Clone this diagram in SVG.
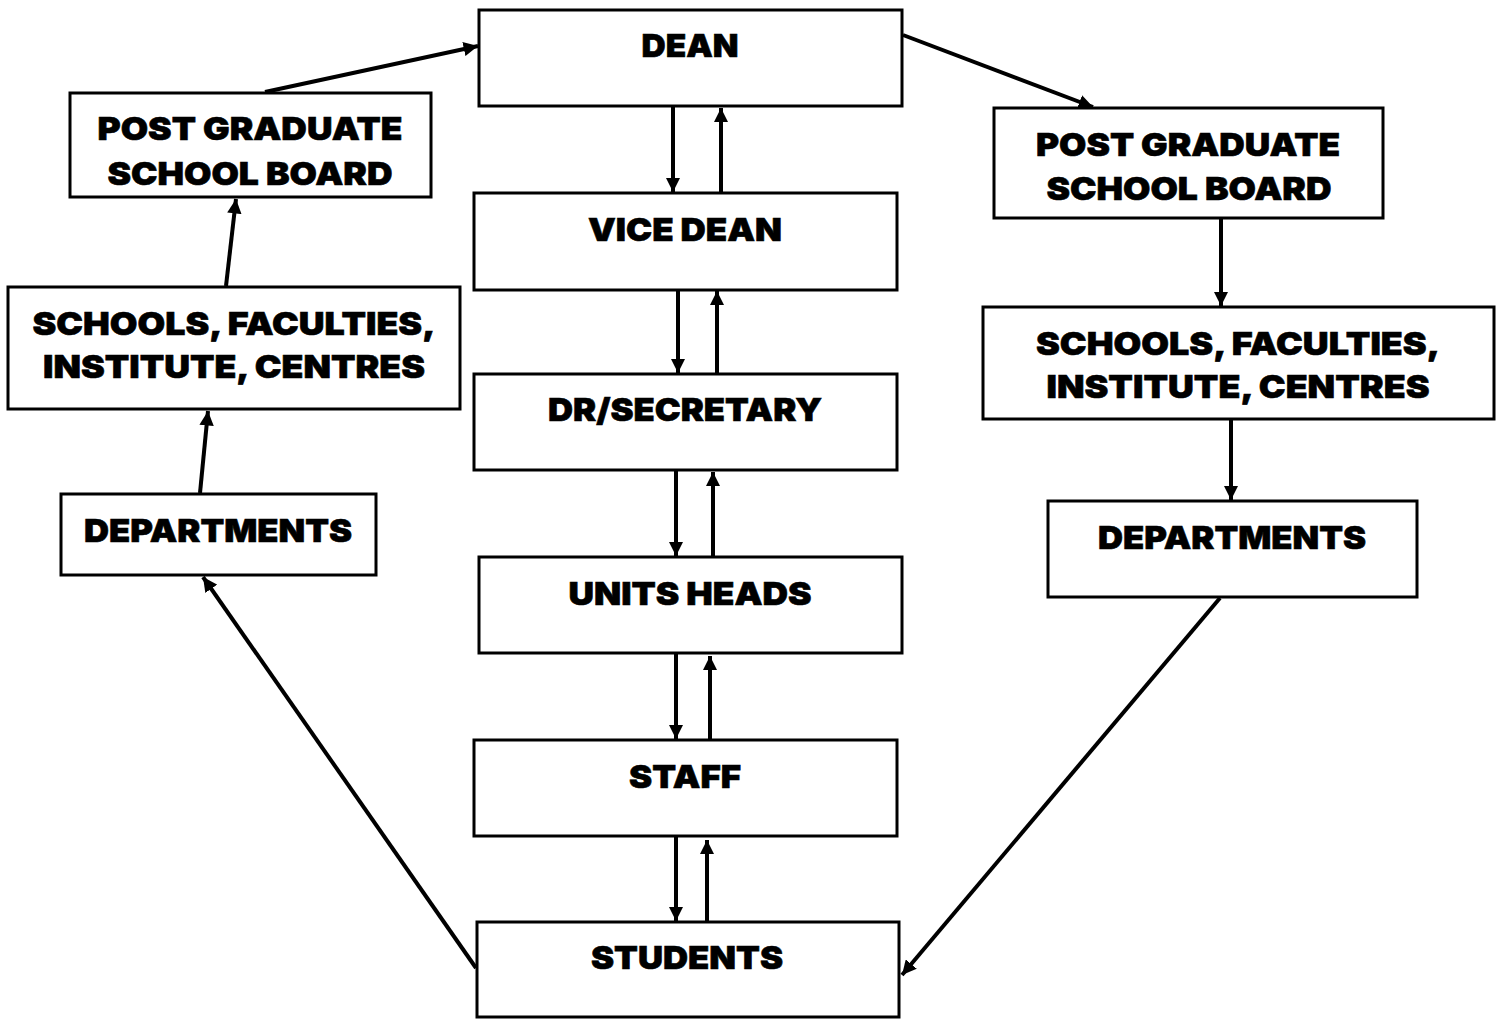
<svg xmlns="http://www.w3.org/2000/svg" width="1506" height="1019" viewBox="0 0 1506 1019">
<style>
.box{fill:#fff;stroke:#000;stroke-width:3}
.t{font-family:"Inter","Lato","Liberation Sans",sans-serif;font-weight:900;font-size:32px;text-anchor:middle;fill:#000;stroke:#000;stroke-width:0.6}
.c{stroke:#000;stroke-width:4;fill:none;marker-end:url(#ah)}
</style>
<defs>
<marker id="ah" viewBox="0 0 10 10" refX="10" refY="5" markerWidth="3.6" markerHeight="3.6" markerUnits="strokeWidth" orient="auto">
<path d="M0,0 L10,5 L0,10 z" fill="#000"/>
</marker>
</defs>
<g id="dean"><rect class="box" x="479" y="10" width="423" height="96"/><text class="t" x="690" y="57" textLength="97" lengthAdjust="spacingAndGlyphs">DEAN</text></g>
<g id="vicedean"><rect class="box" x="474" y="193" width="423" height="97"/><text class="t" x="685" y="241" textLength="194" lengthAdjust="spacingAndGlyphs">VICE DEAN</text></g>
<g id="dr"><rect class="box" x="474" y="374" width="423" height="96"/><text class="t" x="685" y="421" textLength="274" lengthAdjust="spacingAndGlyphs">DR/SECRETARY</text></g>
<g id="units"><rect class="box" x="479" y="557" width="423" height="96"/><text class="t" x="690" y="605" textLength="243" lengthAdjust="spacingAndGlyphs">UNITS HEADS</text></g>
<g id="staff"><rect class="box" x="474" y="740" width="423" height="96"/><text class="t" x="685" y="788" textLength="112" lengthAdjust="spacingAndGlyphs">STAFF</text></g>
<g id="students"><rect class="box" x="477" y="922" width="422" height="95"/><text class="t" x="687" y="969" textLength="192" lengthAdjust="spacingAndGlyphs">STUDENTS</text></g>
<g id="pgsb-left"><rect class="box" x="70" y="93" width="361" height="104"/><text class="t" x="250" y="140" textLength="305" lengthAdjust="spacingAndGlyphs">POST GRADUATE</text><text class="t" x="250" y="185" textLength="285" lengthAdjust="spacingAndGlyphs">SCHOOL BOARD</text></g>
<g id="schools-left"><rect class="box" x="8" y="287" width="452" height="122"/><text class="t" x="234" y="335" textLength="403" lengthAdjust="spacingAndGlyphs">SCHOOLS, FACULTIES,</text><text class="t" x="234" y="378" textLength="382" lengthAdjust="spacingAndGlyphs">INSTITUTE, CENTRES</text></g>
<g id="depts-left"><rect class="box" x="61" y="494" width="315" height="81"/><text class="t" x="218" y="542" textLength="268" lengthAdjust="spacingAndGlyphs">DEPARTMENTS</text></g>
<g id="pgsb-right"><rect class="box" x="994" y="108" width="389" height="110"/><text class="t" x="1188" y="156" textLength="304" lengthAdjust="spacingAndGlyphs">POST GRADUATE</text><text class="t" x="1189" y="200" textLength="285" lengthAdjust="spacingAndGlyphs">SCHOOL BOARD</text></g>
<g id="schools-right"><rect class="box" x="983" y="307" width="511" height="112"/><text class="t" x="1238" y="355" textLength="404" lengthAdjust="spacingAndGlyphs">SCHOOLS, FACULTIES,</text><text class="t" x="1238" y="398" textLength="383" lengthAdjust="spacingAndGlyphs">INSTITUTE, CENTRES</text></g>
<g id="depts-right"><rect class="box" x="1048" y="501" width="369" height="96"/><text class="t" x="1232" y="549" textLength="268" lengthAdjust="spacingAndGlyphs">DEPARTMENTS</text></g>
<g id="connectors">
<line class="c" x1="673" y1="106" x2="673" y2="192"/>
<line class="c" x1="721" y1="193" x2="721" y2="108"/>
<line class="c" x1="678" y1="290" x2="678" y2="373"/>
<line class="c" x1="717" y1="374" x2="717" y2="291"/>
<line class="c" x1="676" y1="470" x2="676" y2="556"/>
<line class="c" x1="713" y1="557" x2="713" y2="472"/>
<line class="c" x1="676" y1="653" x2="676" y2="739"/>
<line class="c" x1="710" y1="740" x2="710" y2="656"/>
<line class="c" x1="676" y1="836" x2="676" y2="921"/>
<line class="c" x1="707" y1="921" x2="707" y2="840"/>
<line class="c" x1="265" y1="92" x2="478" y2="46"/>
<line class="c" x1="226" y1="286" x2="236" y2="199"/>
<line class="c" x1="200" y1="493" x2="208" y2="411"/>
<line class="c" x1="476" y1="968" x2="203" y2="577"/>
<line class="c" x1="903" y1="35" x2="1093" y2="107"/>
<line class="c" x1="1221" y1="218" x2="1221" y2="306"/>
<line class="c" x1="1231" y1="419" x2="1231" y2="500"/>
<line class="c" x1="1220" y1="598" x2="902" y2="975"/>
</g>
</svg>
